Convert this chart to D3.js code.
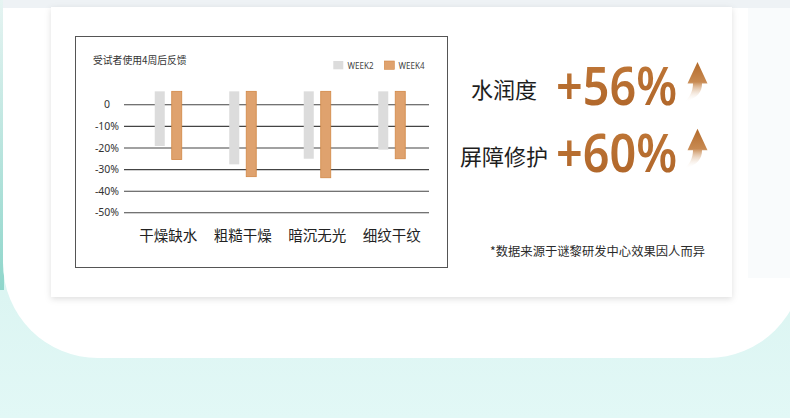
<!DOCTYPE html>
<html>
<head>
    <meta charset="utf-8">
    <script src="https://d3js.org/d3.v7.min.js"></script>
    <style>
        body { margin: 0; overflow: hidden; }
        svg { display: block; }
        .cjk { font-family: "Noto Sans CJK SC", "Noto Sans", sans-serif; }
        .grid line { stroke: #444; stroke-width: 1.1px; }
        .grid text { font-family: "Noto Sans", sans-serif; font-size: 10.5px; fill: #333; }
    </style>
</head>
<body>
<script>
    // Chart data
    const categories = ["干燥缺水", "粗糙干燥", "暗沉无光", "细纹干纹"];
    const series = ["WEEK2", "WEEK4"];
    const week2 = [-19.3, -27.8, -25.2, -21.0];
    const week4 = [-25.6, -33.5, -34.0, -25.2];
    const yTicks = [0, -10, -20, -30, -40, -50];
    const yTickLabels = ["0", "-10%", "-20%", "-30%", "-40%", "-50%"];
    const barTop = 6; // bars start a little above the zero line in the original

    const chartTitle = "受试者使用4周后反馈";
    const claimNames = ["水润度", "屏障修护"];
    const claimValues = ["+56%", "+60%"];
    const footnote = "*数据来源于谜黎研发中心效果因人而异";

    const W = 790, H = 418;
    const colors = { WEEK2: "#dcdcdc", WEEK4: "#dfa26e" };

    let svg = d3.select("body").append("svg")
        .attr("width", W)
        .attr("height", H);

    let defs = svg.append("defs");

    let bg = defs.append("linearGradient").attr("id", "bg")
        .attr("x1", 0).attr("y1", 0).attr("x2", 0).attr("y2", 1);
    bg.append("stop").attr("offset", "0%").attr("stop-color", "#cdeee9");
    bg.append("stop").attr("offset", "100%").attr("stop-color", "#e2f8f6");

    let strip = defs.append("linearGradient").attr("id", "strip")
        .attr("x1", 0).attr("y1", 0).attr("x2", 0).attr("y2", 1);
    strip.append("stop").attr("offset", "0%").attr("stop-color", "#e6f4f2");
    strip.append("stop").attr("offset", "100%").attr("stop-color", "#8fd6cb");

    let arrowGrad = defs.append("linearGradient").attr("id", "arrowGrad")
        .attr("x1", 0).attr("y1", 0).attr("x2", 0).attr("y2", 1);
    arrowGrad.append("stop").attr("offset", "0%").attr("stop-color", "#b36a2a");
    arrowGrad.append("stop").attr("offset", "50%").attr("stop-color", "#c88a52");
    arrowGrad.append("stop").attr("offset", "100%").attr("stop-color", "#ffffff").attr("stop-opacity", 0);

    let numGrad = defs.append("linearGradient").attr("id", "numGrad")
        .attr("x1", 0).attr("y1", 0).attr("x2", 0).attr("y2", 1);
    numGrad.append("stop").attr("offset", "0%").attr("stop-color", "#c27a3a");
    numGrad.append("stop").attr("offset", "100%").attr("stop-color", "#ad6327");

    let shadow = defs.append("filter").attr("id", "shadow")
        .attr("x", "-5%").attr("y", "-5%").attr("width", "110%").attr("height", "115%");
    shadow.append("feDropShadow")
        .attr("dx", 0).attr("dy", 2).attr("stdDeviation", 3)
        .attr("flood-color", "#000").attr("flood-opacity", 0.13);

    // Background: mint page, white rounded panel on top
    svg.append("rect").attr("width", W).attr("height", H).attr("fill", "url(#bg)");
    svg.append("rect").attr("x", 0).attr("y", 0).attr("width", 4).attr("height", 290)
        .attr("fill", "url(#strip)");
    svg.append("rect")
        .attr("x", 3).attr("y", -120)
        .attr("width", 800).attr("height", 478)
        .attr("rx", 95).attr("ry", 95)
        .attr("fill", "#ffffff");
    svg.append("rect").attr("x", 3).attr("y", 0).attr("width", W).attr("height", 8)
        .attr("fill", "#eef2f5");
    svg.append("rect").attr("x", 748).attr("y", 8).attr("width", 42).attr("height", 270)
        .attr("fill", "#f9fbfc");

    // White card
    svg.append("rect")
        .attr("x", 51).attr("y", 7)
        .attr("width", 681).attr("height", 290)
        .attr("fill", "#ffffff")
        .attr("filter", "url(#shadow)");

    // Chart frame
    svg.append("rect")
        .attr("x", 75.5).attr("y", 36.5)
        .attr("width", 372).attr("height", 231)
        .attr("fill", "none")
        .attr("stroke", "#555")
        .attr("stroke-width", 1);

    // Scales
    let y = d3.scaleLinear().domain([-50, 0]).range([212.3, 104.3]);
    let x = d3.scaleBand().domain(categories).range([131, 429]).padding(0);
    let xs = d3.scaleBand().domain(series).range([-13.5, 13.5]).paddingInner(0.41);

    // Gridlines + tick labels
    let gridLeft = 124, gridRight = 429;
    let yAxis = d3.axisLeft(y)
        .tickValues(yTicks)
        .tickFormat((d, i) => yTickLabels[i])
        .tickSizeInner(-(gridRight - gridLeft))
        .tickSizeOuter(0);
    let grid = svg.append("g")
        .attr("class", "grid")
        .attr("transform", "translate(" + gridLeft + ",0)")
        .call(yAxis);
    grid.select(".domain").remove();
    grid.selectAll("text")
        .attr("x", -17)
        .attr("dy", "0.35em")
        .attr("text-anchor", "middle");

    // Bars
    let rows = categories.map((c, i) => ({ cat: c, values: [week2[i], week4[i]] }));
    let groups = svg.selectAll(".group")
        .data(rows)
        .enter().append("g")
        .attr("class", "group")
        .attr("transform", d => "translate(" + (x(d.cat) + x.bandwidth() / 2) + ",0)");

    groups.selectAll("rect")
        .data(d => d.values.map((v, j) => ({ s: series[j], v: v })))
        .enter().append("rect")
        .attr("x", d => xs(d.s))
        .attr("y", y(barTop))
        .attr("width", xs.bandwidth())
        .attr("height", d => y(d.v) - y(barTop))
        .attr("fill", d => colors[d.s])
        .attr("stroke", d => d.s === "WEEK4" ? "#d28846" : "none")
        .attr("stroke-width", 0.8);

    // Category labels
    svg.selectAll(".cat")
        .data(categories)
        .enter().append("text")
        .attr("class", "cjk")
        .attr("x", d => x(d) + x.bandwidth() / 2)
        .attr("y", 241)
        .attr("text-anchor", "middle")
        .attr("font-size", "14.5px")
        .attr("fill", "#222")
        .text(d => d);

    // Title
    svg.append("text")
        .attr("class", "cjk")
        .attr("x", 93).attr("y", 63.5)
        .attr("font-size", "9.8px")
        .attr("fill", "#333")
        .text(chartTitle);

    // Legend
    let legend = svg.selectAll(".legend")
        .data(series)
        .enter().append("g")
        .attr("class", "legend")
        .attr("transform", (d, i) => "translate(" + (333.3 + i * 51) + ",61)");
    legend.append("rect")
        .attr("width", 10).attr("height", 8.3)
        .attr("fill", d => colors[d])
        .attr("stroke", d => d === "WEEK4" ? "#d28846" : "none")
        .attr("stroke-width", 0.6);
    legend.append("text")
        .attr("x", 14.3).attr("y", 8)
        .attr("font-family", "Noto Sans, sans-serif")
        .attr("font-size", "8px")
        .attr("fill", "#444")
        .text(d => d);

    // Claims on the right
    let claims = svg.selectAll(".claim")
        .data(claimNames.map((n, i) => ({ name: n, value: claimValues[i] })))
        .enter().append("g")
        .attr("class", "claim")
        .attr("transform", (d, i) => "translate(0," + (i * 66.7) + ")");

    claims.append("text")
        .attr("class", "cjk")
        .attr("x", 504).attr("y", 98)
        .attr("text-anchor", "middle")
        .attr("font-size", "22px")
        .attr("fill", "#1e1e1e")
        .text(d => d.name);

    claims.append("text")
        .attr("x", 556).attr("y", 105)
        .attr("font-family", "Noto Sans, sans-serif")
        .attr("font-weight", 600)
        .attr("font-size", "52px")
        .attr("textLength", 121)
        .attr("lengthAdjust", "spacingAndGlyphs")
        .attr("fill", "url(#numGrad)")
        .text(d => d.value);

    claims.append("path")
        .attr("transform", "translate(697.5,62)")
        .attr("d", "M0,0 L10,21.5 L4.5,21.5 C4.5,30 0,36 -13,40 C-8,35.5 -4.5,29 -4.5,21.5 L-10,21.5 Z")
        .attr("fill", "url(#arrowGrad)");

    // Footnote
    svg.append("text")
        .attr("class", "cjk")
        .attr("x", 490).attr("y", 255.5)
        .attr("font-size", "12px")
        .attr("textLength", 215)
        .attr("lengthAdjust", "spacingAndGlyphs")
        .attr("fill", "#2a2a2a")
        .text(footnote);
</script>
</body>
</html>
